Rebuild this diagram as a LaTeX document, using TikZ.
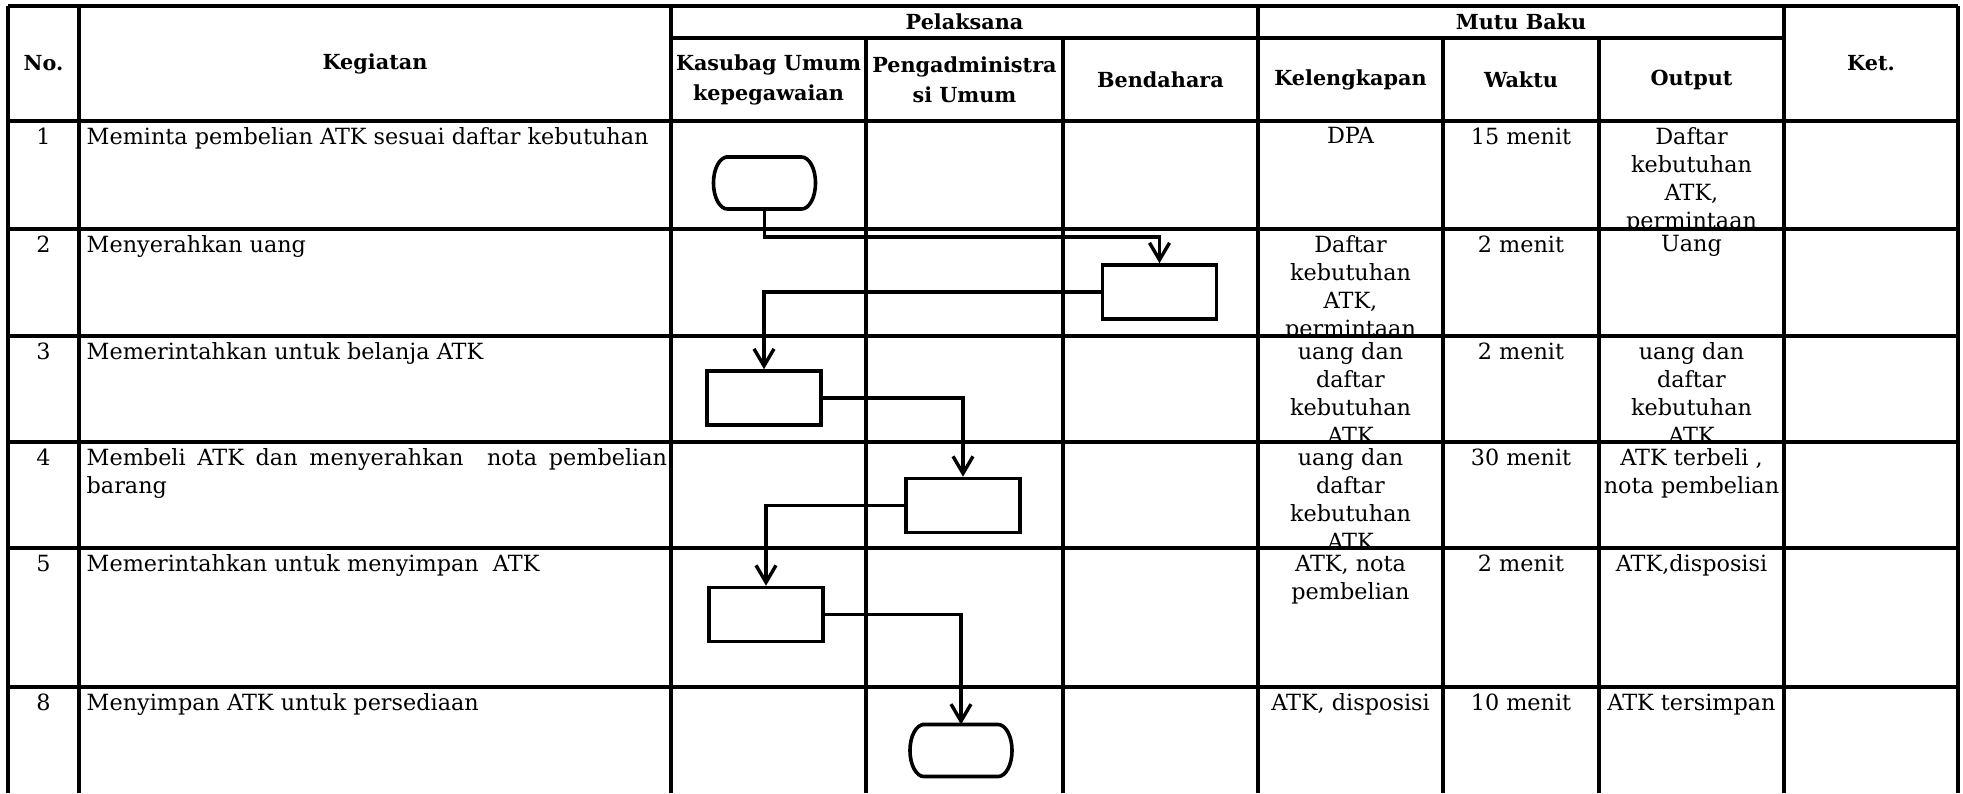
\documentclass[tikz,border=0pt]{standalone}
\usepackage{fontspec}
\setmainfont{DejaVu Serif}
\usetikzlibrary{arrows.meta,positioning}
\tikzset{
  grid/.style  = {line width=0.032cm},
  head/.style  = {font=\bfseries\fontsize{5.9}{8.5}\selectfont, align=center, inner sep=0pt},
  cell/.style  = {font=\fontsize{6.35}{7.97}\selectfont, align=center, inner sep=0pt, anchor=north},
  task/.style  = {cell, anchor=north west, align=justify, text width=5.8cm},
  proc/.style  = {draw, line width=0.036cm, rectangle, minimum width=1.14cm,
  minimum height=0.54cm, inner sep=0pt},
  term/.style  = {rectangle, minimum width=1.02cm, minimum height=0.52cm, inner sep=0pt, outer sep=0pt},
  flow/.style  = {line width=0.034cm, -{Straight Barb[length=0.17cm,width=0.2cm,line width=0.034cm]}}
}

\begin{document}
\begin{tikzpicture}[x=0.01cm, y=-0.01cm]
\useasboundingbox (0,0) rectangle (1963,793);

% table lines
    \draw[grid] (8,6) -- (1958,6);
    \draw[grid] (671,38) -- (1784,38);
    \foreach \y in {121,229,336,442,548,687}
    \draw[grid] (8,\y) -- (1958,\y);
    \foreach \x in {8,79,671,1258,1784,1958}
    \draw[grid] (\x,6) -- (\x,793);
    \foreach \x in {866,1063,1443,1599}
    \draw[grid] (\x,38) -- (\x,793);

% header
    \node[head] (hno) at (43.5,63.5) {No.};
    \node[head] (hkeg) at (375,63.5) {Kegiatan};
    \node[head] (hpel) at (964.5,22) {Pelaksana};
    \node[head] (hmutu) at (1521,22) {Mutu Baku};
    \node[head] (hket) at (1871,63.5) {Ket.};
    \node[head] (hkas) at (768.5,79.5) {Kasubag Umum\\kepegawaian};
    \node[head] (hpeng) at (964.5,79.5) {Pengadministra\\si Umum};
    \node[head] (hbend) at (1160.5,79.5) {Bendahara};
    \node[head] (hkel) at (1350.5,79.5) {Kelengkapan};
    \node[head] (hwak) at (1521,79.5) {Waktu};
    \node[head] (hout) at (1691.5,79.5) {Output};

% numbers and activities
    \foreach \n/\y in {1/121,2/229,3/336,4/442,5/548,8/687}
    \node[cell] (no\n) at (43.5,\y+6) {\n};
    \node[task] (keg1) at (86,127) {Meminta pembelian ATK sesuai daftar kebutuhan};
    \node[task] (keg2) at (86,235) {Menyerahkan uang};
    \node[task] (keg3) at (86,342) {Memerintahkan untuk belanja ATK};
    \node[task] (keg4) at (86,448) {Membeli ATK dan menyerahkan\ \ nota pembelian\linebreak barang};
    \node[task] (keg5) at (86,554) {Memerintahkan untuk menyimpan\ \ ATK};
    \node[task] (keg8) at (86,693) {Menyimpan ATK untuk persediaan};

% mutu baku, cut at the row lines
    \begin{scope}
      \clip (1258,121) rectangle (1784,229);
      \node[cell] (kel1) at (1350.5,127) {DPA};
      \node[cell] (wak1) at (1521,127) {15 menit};
      \node[cell] (out1) at (1691.5,127) {Daftar\\kebutuhan\\ATK,\\permintaan};
    \end{scope}
    \begin{scope}
      \clip (1258,229) rectangle (1784,336);
      \node[cell] (kel2) at (1350.5,235) {Daftar\\kebutuhan\\ATK,\\permintaan};
      \node[cell] (wak2) at (1521,235) {2 menit};
      \node[cell] (out2) at (1691.5,235) {Uang};
    \end{scope}
    \begin{scope}
      \clip (1258,336) rectangle (1784,442);
      \node[cell] (kel3) at (1350.5,342) {uang dan\\daftar\\kebutuhan\\ATK};
      \node[cell] (wak3) at (1521,342) {2 menit};
      \node[cell] (out3) at (1691.5,342) {uang dan\\daftar\\kebutuhan\\ATK};
    \end{scope}
    \begin{scope}
      \clip (1258,442) rectangle (1784,548);
      \node[cell] (kel4) at (1350.5,448) {uang dan\\daftar\\kebutuhan\\ATK};
      \node[cell] (wak4) at (1521,448) {30 menit};
      \node[cell] (out4) at (1691.5,448) {ATK terbeli ,\\nota pembelian};
    \end{scope}
    \node[cell] (kel5) at (1350.5,554) {ATK, nota\\pembelian};
    \node[cell] (wak5) at (1521,554) {2 menit};
    \node[cell] (out5) at (1691.5,554) {ATK,disposisi};
    \node[cell] (kel8) at (1350.5,693) {ATK, disposisi};
    \node[cell] (wak8) at (1521,693) {10 menit};
    \node[cell] (out8) at (1691.5,693) {ATK tersimpan};

% flow
    \node[term] (start) at (764.5,183) {};
    \node[proc] (uang) at (1159.5,292) {};
    \node[proc] (belanja) at (764,398) {};
    \node[proc] (beli) at (963,505.5) {};
    \node[proc] (simpan) at (766,614.5) {};
    \node[term] (stop) at (961,750.5) {};

    % terminator outlines with bulging ends
    \foreach \t in {start,stop}
    \draw[line width=0.036cm] ([xshift=0.14cm]\t.north west) -- ([xshift=-0.14cm]\t.north east)
      arc[start angle=90, end angle=-90, x radius=0.14cm, y radius=0.26cm]
      -- ([xshift=0.14cm]\t.south west)
      arc[start angle=270, end angle=90, x radius=0.14cm, y radius=0.26cm] -- cycle;

    \draw[flow] (start.south) -- ++(0,28) -| (uang.north);
    \draw[flow] (uang.west) -| (belanja.north);
    \draw[flow] (belanja.east) -| (beli.north);
    \draw[flow] (beli.west) -| (simpan.north);
    \draw[flow] (simpan.east) -| (stop.north);
\end{tikzpicture}
\end{document}
